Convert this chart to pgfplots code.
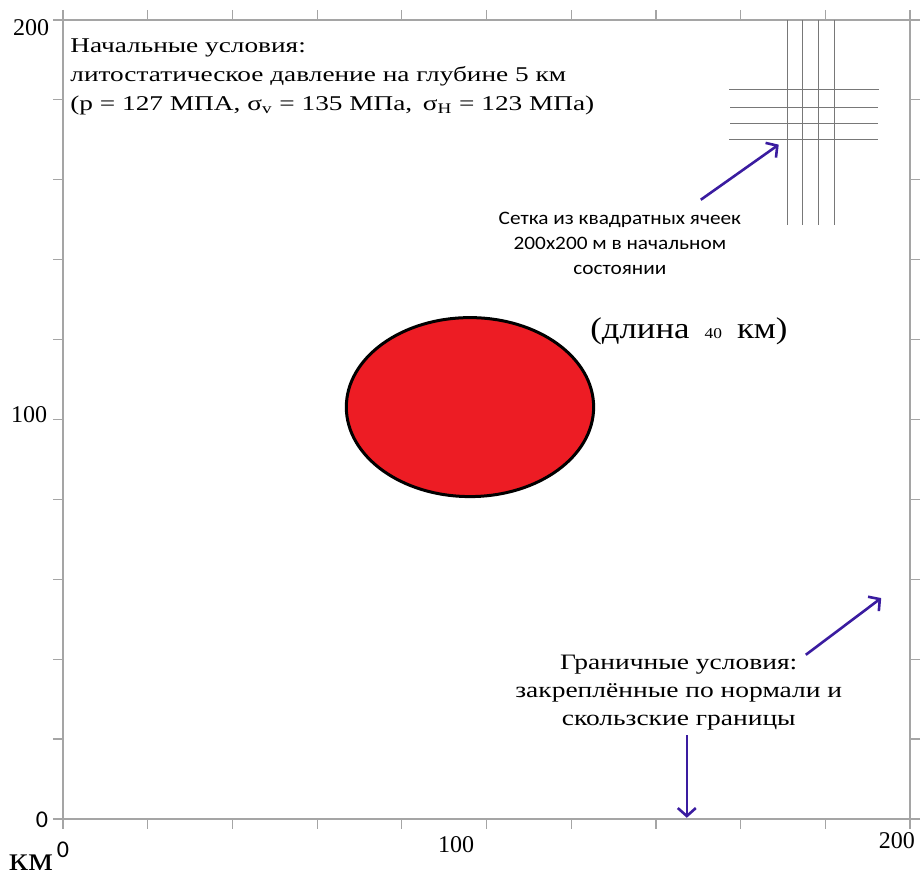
\documentclass[border=0pt]{standalone}
\usepackage{fontspec}
\setmainfont{Liberation Serif}
\newfontfamily\calibri{Carlito}
\newfontfamily\calwide[FakeStretch=1.12]{Carlito}
\newfontfamily\serifA[FakeStretch=1.3]{Liberation Serif}
\newfontfamily\serifB[FakeStretch=1.25]{Liberation Serif}
\newfontfamily\serifC[FakeStretch=1.16]{Liberation Serif}
\usepackage{pgfplots}
\pgfplotsset{compat=1.18}
\usetikzlibrary{arrows.meta}
\definecolor{ellred}{RGB}{237,28,36}
\definecolor{arrcol}{RGB}{58,28,160}
\definecolor{axgray}{RGB}{165,165,165}
\definecolor{gridgray}{RGB}{120,120,120}
\begin{document}
\begin{tikzpicture}
\useasboundingbox (-31.5pt,-28.5pt) rectangle (429.5pt,409.5pt);
\begin{axis}[
 at={(0,0)}, anchor=south west,
 scale only axis, width=423.5pt, height=399.5pt,
 xmin=0,xmax=200,ymin=0,ymax=200,
 xtick={0,20,...,200}, ytick={0,20,...,200},
 xticklabel={\relax}, yticklabel={\relax},
 tick align=outside, major tick length=5pt,
 axis line style={axgray, line width=0.6pt},
 tick style={axgray, line width=0.6pt},
 clip=false,
]
% initial grid of square cells (top right)
\addplot[gridgray, line width=0.5pt] coordinates {(171.0,200) (171.0,148.7)};
\addplot[gridgray, line width=0.5pt] coordinates {(174.7,200) (174.7,148.7)};
\addplot[gridgray, line width=0.5pt] coordinates {(178.5,200) (178.5,148.7)};
\addplot[gridgray, line width=0.5pt] coordinates {(182.1,200) (182.1,148.7)};
\addplot[gridgray, line width=0.5pt] coordinates {(157.3,182.7) (192.7,182.7)};
\addplot[gridgray, line width=0.5pt] coordinates {(157.6,178.2) (192.4,178.2)};
\addplot[gridgray, line width=0.5pt] coordinates {(157.6,174.2) (192.4,174.2)};
\addplot[gridgray, line width=0.5pt] coordinates {(157.3,170.2) (192.4,170.2)};
% inclusion
\draw[fill=ellred, draw=black, line width=1.5pt] (axis cs:96.1,103.1) ellipse [x radius=29.2, y radius=22.4];
% arrows
\draw[arrcol, line width=1.3pt, -{Straight Barb[length=4pt,width=9pt]}] (axis cs:150.6,155.0) -- (axis cs:169.0,168.8);
\draw[arrcol, line width=1.3pt, -{Straight Barb[length=4pt,width=9pt]}] (axis cs:175.4,41.1) -- (axis cs:193.2,55.3);
\draw[arrcol, line width=1.3pt, -{Straight Barb[length=4pt,width=9pt]}] (axis cs:147.3,21.0) -- (axis cs:147.3,0.3);
% texts
\node[anchor=north west, inner sep=0, align=left, font=\serifA\fontsize{10.5}{14.5}\selectfont] at (axis cs:1.65,195.4)
 {Начальные условия:\\литостатическое давление на глубине 5 км\\(p = 127 МПА, σ\textsubscript{v} = 135 МПа,\enspace σ\textsubscript{H} = 123 МПа)};
\node[inner sep=0, align=center, font=\calwide\fontsize{9.5}{12.5}\selectfont] at (axis cs:131.5,144.2)
 {Сетка из квадратных ячеек\\200x200 м в начальном\\состоянии};
\node[inner sep=0, font=\serifC\fontsize{15}{18}\selectfont] at (axis cs:147.8,122.1)
 {(длина\enspace{\fontsize{7.5}{9}\selectfont 40}\enspace км)};
\node[inner sep=0, align=center, font=\serifB\fontsize{11}{14}\selectfont] at (axis cs:145.4,31.6)
 {Граничные условия:\\закреплённые по нормали и\\скользские границы};
% tick labels
\node[font=\fontsize{12}{14}\selectfont] at (axis cs:-7.55,198.1) {200};
\node[font=\fontsize{12}{14}\selectfont] at (axis cs:-8.0,101.1) {100};
\node[font=\calibri\fontsize{12}{14}\selectfont] at (axis cs:-4.96,-0.25) {0};
\node[font=\calibri\fontsize{12}{14}\selectfont] at (axis cs:0,-7.76) {0};
\node[font=\fontsize{12}{14}\selectfont] at (axis cs:92.8,-6.3) {100};
\node[font=\fontsize{12}{14}\selectfont] at (axis cs:196.9,-5.3) {200};
\node[inner sep=0, anchor=south, font=\serifC\fontsize{17}{19}\selectfont] at (axis cs:-7.55,-13.0) {км};
\end{axis}
\end{tikzpicture}
\end{document}
